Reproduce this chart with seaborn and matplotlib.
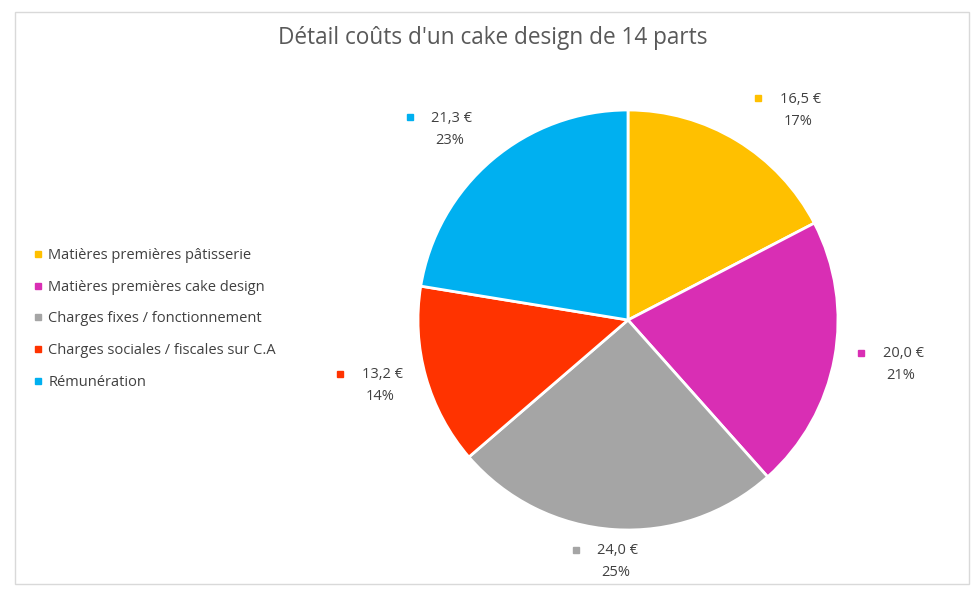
import matplotlib.pyplot as plt
import seaborn as sns
from matplotlib.lines import Line2D
from matplotlib.patches import Rectangle

# Data
categories = ['Matières premières pâtisserie', 'Matières premières cake design',
              'Charges fixes / fonctionnement', 'Charges sociales / fiscales sur C.A',
              'Rémunération']
values = [16.5, 20.0, 24.0, 13.2, 21.3]
value_labels = ['16,5 €', '20,0 €', '24,0 €', '13,2 €', '21,3 €']
pct_labels = ['17%', '21%', '25%', '14%', '23%']
colors = ['#FFC000', '#D92EB4', '#A5A5A5', '#FF3300', '#00B0F0']

# label anchor (in pie radius units), layout only
label_pos = [(0.82, 1.00), (1.31, -0.21), (-0.05, -1.15), (-1.17, -0.31), (-0.84, 0.91)]

sns.set_theme(style="white")
plt.rcParams['font.family'] = ['Open Sans', 'DejaVu Sans']

fig = plt.figure(figsize=(9.8, 6.01), dpi=100)
fig.patches.append(Rectangle((15 / 980, 1 - 584 / 601), 954 / 980, 572 / 601,
                             transform=fig.transFigure, fill=False,
                             edgecolor='#D9D9D9', linewidth=1))

fig.text(493 / 980, 1 - 38 / 601, "Détail coûts d'un cake design de 14 parts",
         ha='center', va='center', fontsize=16.3, color='#595959')

# pie axes: centre (628, 320) px, radius 210 px
ax = fig.add_axes([(628 - 210) / 980, (601 - 320 - 210) / 601, 420 / 980, 420 / 601])
ax.pie(values, colors=colors, startangle=90, counterclock=False, radius=1,
       wedgeprops=dict(edgecolor='white', linewidth=2))
ax.set_xlim(-1, 1)
ax.set_ylim(-1, 1)
ax.set_aspect('equal')
ax.axis('off')

for (x, y), v, p, c in zip(label_pos, value_labels, pct_labels, colors):
    ax.text(x, y + 0.05, v, ha='center', va='center', fontsize=10.5, color='#404040')
    ax.text(x - 0.01, y - 0.053, p, ha='center', va='center', fontsize=10.5, color='#404040')
    ax.plot([x - 0.2], [y + 0.055], marker='s', markersize=5, color=c, clip_on=False)

handles = [Line2D([], [], marker='s', linestyle='', markersize=5, color=c) for c in colors]
leg = fig.legend(handles, categories, loc='center left', bbox_to_anchor=(28 / 980, 1 - 319 / 601),
                 frameon=False, fontsize=10.5, handlelength=0.6, handletextpad=0.4,
                 labelspacing=1.15, borderaxespad=0)
for t in leg.get_texts():
    t.set_color('#404040')

fig.savefig('out.png', dpi=100)
